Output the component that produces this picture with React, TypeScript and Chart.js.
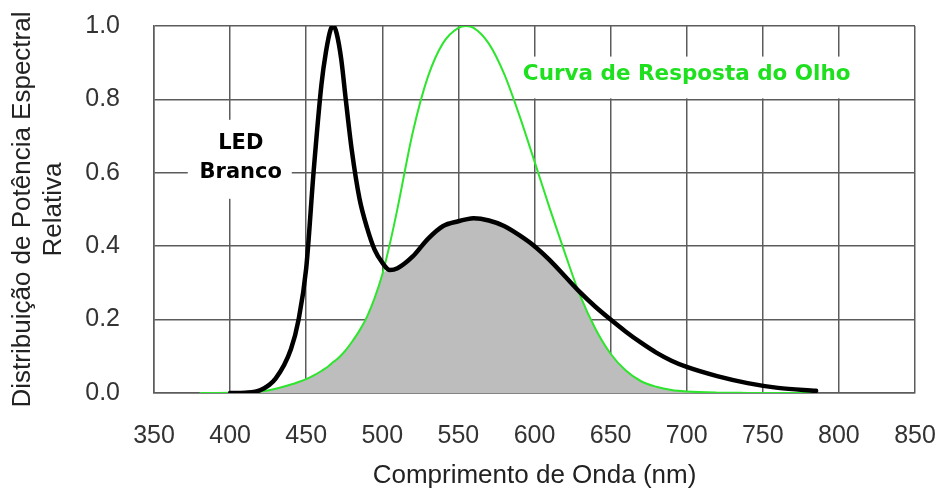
import React, { useEffect, useRef } from "react";
import { Chart, registerables } from "chart.js";

Chart.register(...registerables);

const wavelengths = [380, 390, 400, 410, 420, 430, 440, 445, 450, 455, 460, 463, 466, 468, 470, 473, 476, 480, 485, 490, 495, 500, 505, 510, 520, 530, 540, 550, 555, 560, 570, 580, 590, 600, 610, 620, 630, 640, 650, 660, 670, 680, 690, 700, 720, 740, 760, 785];

const ledValues: (number | null)[] = [null, null, 0.0, 0.001, 0.008, 0.04, 0.12, 0.2, 0.34, 0.61, 0.84, 0.93, 0.99, 1.0, 0.98, 0.91, 0.8, 0.66, 0.53, 0.45, 0.39, 0.355, 0.335, 0.34, 0.372, 0.42, 0.455, 0.468, 0.473, 0.476, 0.47, 0.455, 0.43, 0.4, 0.362, 0.318, 0.274, 0.235, 0.2, 0.167, 0.137, 0.11, 0.088, 0.071, 0.046, 0.027, 0.014, 0.006];

const eyeValues: number[] = [0.0, 0.0001, 0.0004, 0.0012, 0.004, 0.0116, 0.023, 0.03, 0.038, 0.048, 0.06, 0.068, 0.078, 0.085, 0.091, 0.103, 0.117, 0.139, 0.17, 0.208, 0.259, 0.323, 0.407, 0.503, 0.71, 0.862, 0.954, 0.995, 1.0, 0.995, 0.952, 0.87, 0.757, 0.631, 0.503, 0.381, 0.265, 0.175, 0.107, 0.061, 0.032, 0.017, 0.008, 0.004, 0.001, 0.0003, 0.0001, 0.0];

const xTicks = [350, 400, 450, 500, 550, 600, 650, 700, 750, 800, 850];
const yTicks = [0.0, 0.2, 0.4, 0.6, 0.8, 1.0];

const xTitle = "Comprimento de Onda (nm)";
const yTitle = ["Distribuição de Potência Espectral", "Relativa"];
const ledLabel = ["LED", "Branco"];
const eyeLabel = "Curva de Resposta do Olho";

const GRID = "#5c5c5c";
const GREEN = "#2ee52e";
const GREEN_TEXT = "#1fe01f";

const labelPlugin = {
  id: "labelBoxes",
  beforeDatasetsDraw(chart: any) {
    const { ctx } = chart;
    const x = chart.scales.x;
    const y = chart.scales.y;
    ctx.save();
    // LED Branco label
    const cx = x.getPixelForValue(407);
    const cyB = y.getPixelForValue(0.6);
    const cyL = cyB - 29;
    ctx.fillStyle = "#ffffff";
    ctx.fillRect(cx - 53, cyL - 24, 104, 79);
    ctx.font = 'bold 21px "DejaVu Sans"';
    ctx.fillStyle = "#000000";
    ctx.textAlign = "center";
    ctx.textBaseline = "middle";
    ctx.fillText(ledLabel[0], cx, cyL);
    ctx.fillText(ledLabel[1], cx, cyB);
    // Eye response label
    const gx = x.getPixelForValue(700);
    const gy = y.getPixelForValue(0.869);
    const bottom = y.getPixelForValue(0.8) - 1;
    ctx.fillStyle = "#ffffff";
    ctx.fillRect(gx - 171, gy - 17.5, 350, bottom - (gy - 17.5));
    ctx.font = 'bold 21.5px "DejaVu Sans"';
    ctx.fillStyle = GREEN_TEXT;
    ctx.fillText(eyeLabel, gx, gy);
    ctx.restore();
  },
};

export default function App() {
  const ref = useRef<HTMLCanvasElement | null>(null);
  useEffect(() => {
    if (!ref.current) return;
    const led = wavelengths.map((w, i) => ({ x: w, y: ledValues[i] }));
    const eye = wavelengths.map((w, i) => ({ x: w, y: eyeValues[i] }));
    const overlap = wavelengths.map((w, i) => {
      const a = ledValues[i];
      const b = eyeValues[i];
      return { x: w, y: a === null ? null : Math.min(a, b) };
    });
    const chart = new Chart(ref.current, {
      type: "line",
      data: {
        datasets: [
          {
            label: "LED Branco",
            data: led as any,
            borderColor: "#000000",
            borderWidth: 4.5,
            borderCapStyle: "round",
            pointRadius: 0,
            fill: false,
            cubicInterpolationMode: "monotone",
          },
          {
            label: "Curva de Resposta do Olho",
            data: eye as any,
            borderColor: GREEN,
            borderWidth: 2,
            pointRadius: 0,
            fill: false,
            cubicInterpolationMode: "monotone",
          },
          {
            label: "overlap",
            data: overlap as any,
            borderWidth: 0,
            borderColor: "rgba(0,0,0,0)",
            backgroundColor: "#bdbdbd",
            pointRadius: 0,
            fill: "origin",
            cubicInterpolationMode: "monotone",
          },
        ],
      },
      options: {
        animation: false,
        responsive: false,
        maintainAspectRatio: false,
        layout: { padding: { left: 0, top: 26, right: 23, bottom: 0 } },
        plugins: { legend: { display: false }, tooltip: { enabled: false } },
        scales: {
          x: {
            type: "linear",
            min: 350,
            max: 850,
            afterBuildTicks: (s: any) => {
              s.ticks = xTicks.map((v) => ({ value: v }));
            },
            afterFit: (s: any) => {
              s.height = 100;
              s.paddingLeft = 0;
              s.paddingRight = 0;
              s.paddingTop = 0;
              s.paddingBottom = 0;
            },
            grid: { color: GRID, lineWidth: 1.5, drawTicks: false },
            border: { color: GRID, width: 1.5 },
            ticks: {
              padding: 28,
              color: "#333333",
              font: { family: '"Liberation Sans", Arial', size: 25 },
              maxRotation: 0,
              callback: (v: any) => String(v),
            },
            title: {
              display: true,
              text: xTitle,
              color: "#222222",
              font: { family: '"Liberation Sans", Arial', size: 26 },
              padding: { top: 0, bottom: 1.5 },
            },
          },
          y: {
            type: "linear",
            min: 0,
            max: 1,
            afterBuildTicks: (s: any) => {
              s.ticks = yTicks.map((v) => ({ value: v }));
            },
            afterFit: (s: any) => {
              s.width = 154;
              s.paddingLeft = 0;
              s.paddingRight = 0;
              s.paddingTop = 0;
              s.paddingBottom = 0;
            },
            grid: { color: GRID, lineWidth: 1.5, drawTicks: false },
            border: { color: GRID, width: 1.5 },
            ticks: {
              padding: 34,
              color: "#333333",
              font: { family: '"Liberation Sans", Arial', size: 25 },
              callback: (v: any) => Number(v).toFixed(1),
            },
            title: {
              display: true,
              text: yTitle,
              color: "#222222",
              font: { family: '"Liberation Sans", Arial', size: 26 },
              padding: { top: 7.5, bottom: 0 },
            },
          },
        },
      },
      plugins: [labelPlugin],
    });
    return () => chart.destroy();
  }, []);
  return (
    <div style={{ position: "absolute", left: 0, top: 0, width: 938, height: 493, background: "#fff" }}>
      <canvas ref={ref} width={938} height={493} />
    </div>
  );
}
